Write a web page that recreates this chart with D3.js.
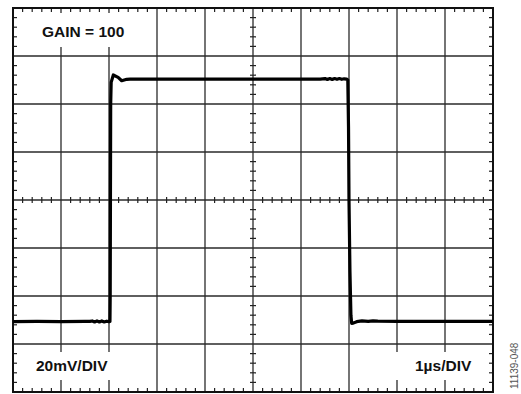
<!DOCTYPE html>
<html>
<head>
<meta charset="utf-8">
<script src="https://cdn.jsdelivr.net/npm/d3@7"></script>
<style>
  html, body { margin: 0; padding: 0; background: #fff; }
  .label { font: bold 15.5px "Liberation Sans", Arial, Helvetica, sans-serif; fill: #111; }
  .figno { font: 10px "Liberation Sans", Arial, sans-serif; fill: #555; }
</style>
</head>
<body>
<svg id="scope" width="521" height="394"></svg>
<script>
// scope trace, time in µs and voltage in mV (20mV/DIV, 1µs/DIV)
const timeUs = [
  0, 0.5, 1.0, 1.5, 1.6, 1.65, 1.7, 1.75, 1.8, 1.85, 1.9, 1.95, 2.0,
  2.02, 2.025, 2.03, 2.035, 2.045, 2.09, 2.19, 2.265, 2.37, 2.44,
  3.0, 4.0, 5.0, 6.0, 6.4, 6.5, 6.55, 6.6, 6.65, 6.7, 6.75, 6.8, 6.85, 6.9, 6.95,
  6.975, 6.99, 7.0, 7.02, 7.04, 7.056, 7.1, 7.16, 7.27, 7.4, 7.5, 7.6, 8.0, 9.0, 10.0
]
const voltageMv = [
  -50.7, -50.6, -50.7, -50.6, -50.6, -50.4, -50.8, -50.4, -50.8, -50.4, -50.8, -50.5, -50.7,
  -50.6, -40, 0, 40, 49, 52.1, 51.1, 49.7, 50.3, 50.4,
  50.4, 50.4, 50.4, 50.4, 50.4, 50.6, 50.2, 50.6, 50.2, 50.6, 50.3, 50.6, 50.3, 50.5, 50.4,
  50.0, 30, 0, -30, -48, -51.4, -51.2, -50.7, -50.4, -50.6, -50.4, -50.5, -50.6, -50.6, -50.6
]

const xDomain = [0, 10]
const yDomain = [-80, 80]
const xDivs = d3.range(0, 10.01, 1)
const yDivs = d3.range(-80, 80.01, 20)

const labels = [
  { text: "GAIN = 100", x: 42, y: 37, box: [20, 13, 120, 34] },
  { text: "20mV/DIV", x: 36, y: 371, box: [20, 352, 120, 28] },
  { text: "1µs/DIV", x: 415, y: 371, box: [380, 352, 106, 28] }
]
const figNumber = "11139-048"

const svg = d3.select("#scope")
const x = d3.scaleLinear().domain(xDomain).range([13, 493])
const y = d3.scaleLinear().domain(yDomain).range([392, 8])

// major grid
svg.append("g")
  .selectAll("line")
  .data(xDivs.slice(1, -1)).enter()
    .append("line")
      .attr("x1", d => x(d)).attr("x2", d => x(d))
      .attr("y1", y(80)).attr("y2", y(-80))
      .attr("stroke", "#2a2a2a").attr("stroke-width", 1.3)

svg.append("g")
  .selectAll("line")
  .data(yDivs.slice(1, -1)).enter()
    .append("line")
      .attr("x1", x(0)).attr("x2", x(10))
      .attr("y1", d => y(d)).attr("y2", d => y(d))
      .attr("stroke", "#2a2a2a").attr("stroke-width", 1.3)

// minor ticks, 5 per division
const minorX = d3.range(0, 50).filter(i => i % 5 != 0).map(i => i / 5)
const minorY = d3.range(0, 40).filter(i => i % 5 != 0).map(i => -80 + i * 4)

const ticks = svg.append("g").attr("stroke", "#222").attr("stroke-width", 1.2)

minorX.forEach(t => {
  const px = x(t)
  ticks.append("line").attr("x1", px).attr("x2", px).attr("y1", y(80)).attr("y2", y(80) + 4)
  ticks.append("line").attr("x1", px).attr("x2", px).attr("y1", y(-80)).attr("y2", y(-80) - 4)
  ticks.append("line").attr("x1", px).attr("x2", px).attr("y1", y(0) - 3).attr("y2", y(0) + 3)
})

minorY.forEach(v => {
  const py = y(v)
  ticks.append("line").attr("x1", x(0)).attr("x2", x(0) + 4).attr("y1", py).attr("y2", py)
  ticks.append("line").attr("x1", x(10)).attr("x2", x(10) - 4).attr("y1", py).attr("y2", py)
  ticks.append("line").attr("x1", x(5) - 3).attr("x2", x(5) + 3).attr("y1", py).attr("y2", py)
})

// label boxes hide the grid under the text
svg.append("g")
  .selectAll("rect")
  .data(labels).enter()
    .append("rect")
      .attr("x", d => d.box[0]).attr("y", d => d.box[1])
      .attr("width", d => d.box[2]).attr("height", d => d.box[3])
      .attr("fill", "#fff")

svg.append("g")
  .selectAll("text")
  .data(labels).enter()
    .append("text")
      .attr("class", "label")
      .attr("x", d => d.x).attr("y", d => d.y)
      .text(d => d.text)

// border
svg.append("rect")
  .attr("x", x(0)).attr("y", y(80))
  .attr("width", x(10) - x(0)).attr("height", y(-80) - y(80))
  .attr("fill", "none").attr("stroke", "#111").attr("stroke-width", 2)

// trace
const trace = d3.line()
  .x((d, i) => x(timeUs[i]))
  .y(d => y(d))

svg.append("path")
  .attr("d", trace(voltageMv))
  .attr("fill", "none")
  .attr("stroke", "#000")
  .attr("stroke-width", 3.2)
  .attr("stroke-linejoin", "round")

svg.append("text")
  .attr("class", "figno")
  .attr("transform", "translate(518, 389) rotate(-90)")
  .text(figNumber)
</script>
</body>
</html>
